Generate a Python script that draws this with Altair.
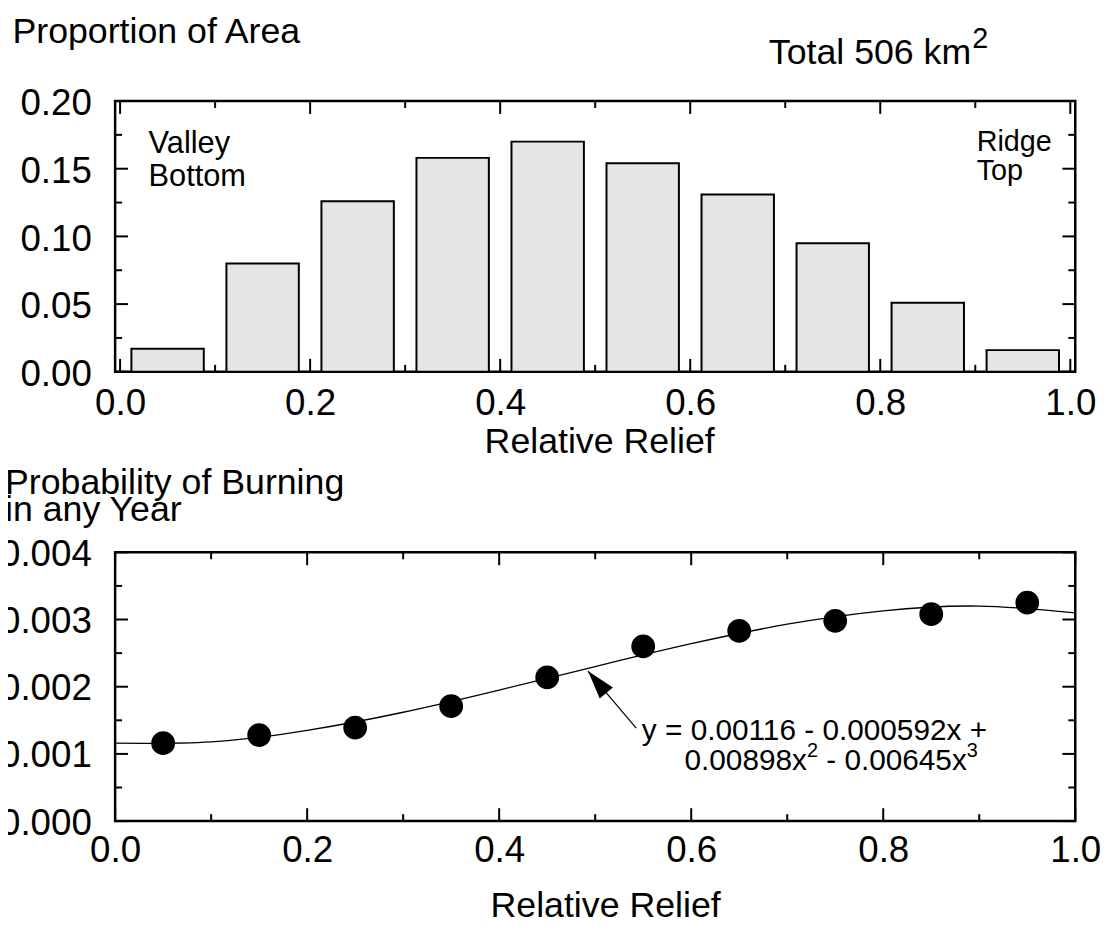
import altair as alt
import pandas as pd

# ---------------- data ----------------
RELIEF_BINS = [0.05, 0.15, 0.25, 0.35, 0.45, 0.55, 0.65, 0.75, 0.85, 0.95]
AREA_PROPORTION = [0.017, 0.080, 0.126, 0.158, 0.170, 0.154, 0.131, 0.095, 0.051, 0.016]
BURN_PROB = [0.00116, 0.00128, 0.00139, 0.00171, 0.00214, 0.00260, 0.00283, 0.00298, 0.00308, 0.00325]
FIT_X = [0.0, 0.1, 0.2, 0.3, 0.4, 0.5, 0.6, 0.7, 0.8, 0.9, 1.0]
FIT_Y = [0.00116, 0.00118, 0.00135, 0.00162, 0.00195, 0.00230, 0.00264, 0.00293, 0.00313, 0.00320, 0.00310]

X_TICKS = [0.0, 0.2, 0.4, 0.6, 0.8, 1.0]
X_MINOR = [0.1, 0.3, 0.5, 0.7, 0.9]
AREA_TICKS = [0.0, 0.05, 0.10, 0.15, 0.20]
AREA_MINOR = [0.025, 0.075, 0.125, 0.175]
PROB_TICKS = [0.0, 0.001, 0.002, 0.003, 0.004]
PROB_MINOR = [0.0005, 0.0015, 0.0025, 0.0035]

TOP_TITLE = "Proportion of Area"
BOTTOM_TITLE = ["Probability of Burning", "in any Year"]
X_TITLE = "Relative Relief"
TOTAL_TEXT = ["Total 506 km", "2"]
VALLEY_TEXT = ["Valley", "Bottom"]
RIDGE_TEXT = ["Ridge", "Top"]
EQ_LINE1 = "y = 0.00116 - 0.000592x +"
EQ_LINE2 = ["0.00898x", "2", "- 0.00645x", "3"]

FONT = "Liberation Sans"
W = 968
H_TOP = 273
H_BOT = 271

xscale = alt.Scale(domain=[0, 1], nice=False, zero=False)
yscale_top = alt.Scale(domain=[0, 0.2], nice=False)
yscale_bot = alt.Scale(domain=[0, 0.004], nice=False)


def one(text):
    return pd.DataFrame({"t": [text]})


def x_axis(pad, title_y, title_x):
    return alt.Axis(values=X_TICKS, format=".1f", title=X_TITLE, ticks=False, domain=False,
                    grid=False, labelFontSize=37, labelPadding=pad, labelFlush=False,
                    labelOverlap=False, labelColor="black", labelFont=FONT,
                    titleFontSize=36, titleFontWeight="normal", titleFont=FONT,
                    titleColor="black", titleY=title_y, titleX=title_x,
                    titleBaseline="alphabetic", titleAlign="center")


def y_axis(vals, fmt, offset):
    return alt.Axis(values=vals, format=fmt, title=None, ticks=False, domain=False, grid=False,
                    labelFontSize=37, labelPadding=24, labelOffset=offset, labelColor="black",
                    labelFont=FONT, labelOverlap=False)


def tick_layers(xax, yax, ymaj, ymin, yscale, H):
    layers = []
    for vals, ln in ((X_TICKS, 13), (X_MINOR, 7)):
        base = alt.Chart(pd.DataFrame({"v": vals})).mark_rule(color="black", strokeWidth=2)
        xx = alt.X("v:Q", scale=xscale, axis=xax)
        layers.append(base.encode(x=xx, y=alt.value(H), y2=alt.value(H - ln)))
        layers.append(base.encode(x=xx, y=alt.value(0), y2=alt.value(ln)))
    for vals, ln in ((ymaj, 13), (ymin, 7)):
        base = alt.Chart(pd.DataFrame({"v": vals})).mark_rule(color="black", strokeWidth=2)
        yy = alt.Y("v:Q", scale=yscale, axis=yax)
        layers.append(base.encode(y=yy, x=alt.value(0), x2=alt.value(ln)))
        layers.append(base.encode(y=yy, x=alt.value(W), x2=alt.value(W - ln)))
    return layers


def pixel_text(text, x, y, size, align="left", baseline="alphabetic"):
    return alt.Chart(one(text)).mark_text(
        align=align, baseline=baseline, fontSize=size, font=FONT, color="black"
    ).encode(x=alt.value(x), y=alt.value(y), text="t:N")


def data_text(text, x, y, size, align="left", baseline="alphabetic", dx=0, dy=0):
    return alt.Chart(one(text)).mark_text(
        align=align, baseline=baseline, fontSize=size, font=FONT, color="black", dx=dx, dy=dy
    ).encode(x=alt.datum(x), y=alt.datum(y), text="t:N")


# ---------------- top panel ----------------
xa_top = x_axis(14, 81, 488)
ya_top = y_axis(AREA_TICKS, ".2f", 3)
area_df = pd.DataFrame({"relief": RELIEF_BINS, "area": AREA_PROPORTION})
bars = alt.Chart(area_df).mark_bar(size=73, fill="#e5e5e5", stroke="black", strokeWidth=2).encode(
    x=alt.X("relief:Q", scale=xscale, axis=xa_top),
    y=alt.Y("area:Q", scale=yscale_top, axis=ya_top),
)

top_texts = [
    pixel_text(TOP_TITLE, -103.5, -58.3, 36),
    data_text(VALLEY_TEXT[0], 0.030, 0.1617, 31),
    data_text(VALLEY_TEXT[1], 0.030, 0.1617, 31, dy=33),
    data_text(RIDGE_TEXT[0], 0.9015, 0.163, 29),
    data_text(RIDGE_TEXT[1], 0.9015, 0.163, 29, dy=29),
    data_text(TOTAL_TEXT[0], 0.8957, 0.2271, 36, align="right"),
    data_text(TOTAL_TEXT[1], 0.8957, 0.2271, 29, dx=1, dy=-16),
]

top = alt.layer(bars, *tick_layers(xa_top, ya_top, AREA_TICKS, AREA_MINOR, yscale_top, H_TOP),
                *top_texts).properties(width=W, height=H_TOP)

# ---------------- bottom panel ----------------
xa_bot = x_axis(12, 96, 494)
ya_bot = y_axis(PROB_TICKS, ".3f", 2)
fit_df = pd.DataFrame({"x": FIT_X, "y": FIT_Y})
pts_df = pd.DataFrame({"relief": RELIEF_BINS, "p": BURN_PROB})

fit_line = alt.Chart(fit_df).mark_line(color="black", strokeWidth=1.3, interpolate="natural").encode(
    x=alt.X("x:Q", scale=xscale, axis=xa_bot),
    y=alt.Y("y:Q", scale=yscale_bot, axis=ya_bot),
)
points = alt.Chart(pts_df).mark_circle(size=573, color="black", opacity=1).encode(
    x=alt.X("relief:Q", scale=xscale, axis=xa_bot),
    y=alt.Y("p:Q", scale=yscale_bot, axis=ya_bot),
)

arrow_line = alt.Chart(one("a")).mark_rule(color="black", strokeWidth=1.2).encode(
    x=alt.datum(0.5427), y=alt.datum(0.001383), x2=alt.datum(0.4925), y2=alt.datum(0.002233)
)
arrow_head = alt.Chart(one("a")).mark_point(
    shape="M0,0L-0.6,2L0.6,2Z", filled=True, color="black", opacity=1, size=829,
    angle=320.1, strokeWidth=0
).encode(x=alt.datum(0.4925), y=alt.datum(0.002233))

eq_font = 30
eq_sup = 20
l2x, l2y = 0.593, 0.000768
w_a = 4.114 * eq_font
w_sup = 0.556 * eq_sup
w_sp = 0.278 * eq_font
w_b = 4.725 * eq_font
bottom_texts = [
    pixel_text(BOTTOM_TITLE[0], -111, -58.7, 36),
    pixel_text(BOTTOM_TITLE[1], -111, -32, 36),
    data_text(EQ_LINE1, 0.5486, 0.00121, eq_font),
    data_text(EQ_LINE2[0], l2x, l2y, eq_font),
    data_text(EQ_LINE2[1], l2x, l2y, eq_sup, dx=w_a, dy=-13),
    data_text(EQ_LINE2[2], l2x, l2y, eq_font, dx=w_a + w_sup + w_sp),
    data_text(EQ_LINE2[3], l2x, l2y, eq_sup, dx=w_a + w_sup + w_sp + w_b, dy=-13),
]

bottom = alt.layer(fit_line, points,
                   *tick_layers(xa_bot, ya_bot, PROB_TICKS, PROB_MINOR, yscale_bot, H_BOT),
                   arrow_line, arrow_head, *bottom_texts).properties(width=W, height=H_BOT)

chart = (
    alt.vconcat(top, bottom, spacing=182, bounds="flush")
    .properties(padding={"left": -10, "top": 1, "right": 5, "bottom": 0})
    .configure(font=FONT, background="white")
    .configure_view(stroke="black", strokeWidth=2.5)
)

chart.save("out.html", embed_options={"renderer": "svg", "actions": False})
